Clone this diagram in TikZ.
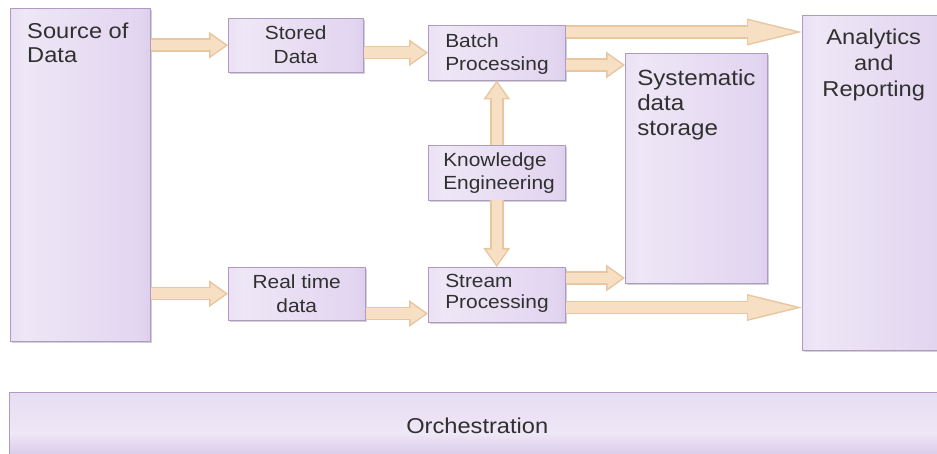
\documentclass[tikz,border=0pt]{standalone}
\usepackage{fontspec}
\setmainfont[FakeStretch=1.1]{Liberation Sans}
\usetikzlibrary{arrows.meta,shadows}
\definecolor{bxa}{HTML}{D6C4EA}
\definecolor{bxb}{HTML}{EEE7F6}
\definecolor{bxc}{HTML}{E2D5F0}
\definecolor{bxd}{HTML}{B899D6}
\definecolor{bxline}{HTML}{AE9AC2}
\definecolor{arredge}{HTML}{E8C6A0}
\definecolor{arrfill}{HTML}{F6DFC2}
\definecolor{txt}{HTML}{303030}
\pgfdeclarehorizontalshading{boxshade}{100bp}{color(0bp)=(bxa); color(30bp)=(bxb); color(72bp)=(bxc); color(100bp)=(bxd)}
\pgfdeclareverticalshading{orchshade}{100bp}{color(0bp)=(bxd); color(45bp)=(bxb); color(100bp)=(bxc)}
\newcommand\btxt[4]{\parbox[c][#2][t]{#1}{\vspace*{#3}#4}}
\newcommand\flowarr[3][flow]{\draw[#1outer] #2 -- #3; \draw[#1inner] #2 -- #3;}
\tikzset{
  box/.style={shading=boxshade, draw=bxline, line width=0.5pt, inner sep=0pt,
    anchor=north west, text=txt,
    drop shadow={shadow xshift=1.5pt, shadow yshift=-2pt, opacity=0.3, fill=black!60}},
  flowouter/.style={draw=arredge, line width=13.5pt,
    -{Triangle[width=27pt,length=19pt,line width=0pt]}},
  flowinner/.style={draw=arrfill, line width=10.5pt,
    -{Triangle[width=21pt,length=14.8pt,line width=0pt]}, shorten >=2.6pt},
  longflowouter/.style={draw=arredge, line width=13.5pt,
    -{Triangle[width=27pt,length=55pt,line width=0pt]}},
  longflowinner/.style={draw=arrfill, line width=10.5pt,
    -{Triangle[width=23.5pt,length=47.8pt,line width=0pt]}, shorten >=6.3pt},
}
\begin{document}
\begin{tikzpicture}[x=1pt,y=-1pt]
\useasboundingbox (0,0) rectangle (937,454);
\clip (0,0) rectangle (937,454);

\node[box] (src) at (10,8)
  {\btxt{140pt}{333pt}{15pt}{\fontsize{21.5}{24}\selectfont\raggedright\leftskip=17pt Source of\\Data}};
\node[box] (stored) at (228,18)
  {\btxt{135pt}{54pt}{7.5pt}{\fontsize{19}{24}\selectfont\centering Stored\\Data}};
\node[box] (batch) at (428,25)
  {\btxt{137pt}{55pt}{8.5pt}{\fontsize{19}{23}\selectfont\raggedright\leftskip=17pt Batch\\Processing}};
\node[box] (know) at (428,145)
  {\btxt{137pt}{55pt}{7.5pt}{\fontsize{19}{23}\selectfont\raggedright\leftskip=15pt Knowledge\\Engineering}};
\node[box] (real) at (228,267)
  {\btxt{137pt}{53pt}{7.5pt}{\fontsize{19}{24}\selectfont\centering Real time\\data}};
\node[box] (stream) at (428,267)
  {\btxt{137pt}{55pt}{6.5pt}{\fontsize{19}{21.5}\selectfont\raggedright\leftskip=17pt Stream\\Processing}};
\node[box] (sys) at (625,53)
  {\btxt{142pt}{230pt}{16pt}{\fontsize{22}{25}\selectfont\raggedright\leftskip=12pt Systematic\\data\\storage}};
\node[box] (ana) at (802,15)
  {\btxt{143pt}{335pt}{14pt}{\fontsize{21.5}{26}\selectfont\centering Analytics\\and\\Reporting}};
\node[box, shading=orchshade, minimum width=936pt, minimum height=68pt,
  font=\fontsize{21.5}{24}\selectfont] (orch) at (9,392) {Orchestration};

\coordinate (b1) at ([yshift=-7pt]batch.north east);
\coordinate (b2) at ([yshift=-40pt]batch.north east);
\coordinate (r1) at ([yshift=7pt]real.south east);
\coordinate (s1) at ([yshift=-11pt]stream.north east);
\coordinate (s2) at ([yshift=15pt]stream.south east);

\flowarr{(src.east |- stored.west)}{(stored.west)}
\flowarr{(stored.east |- batch.west)}{(batch.west)}
\flowarr[longflow]{(b1)}{(b1 -| ana.west)}
\flowarr{(b2)}{(b2 -| sys.west)}
\flowarr{(know.north)}{(batch.south)}
\flowarr{(know.south)}{(stream.north)}
\flowarr{(src.east |- real.west)}{(real.west)}
\flowarr{(r1)}{(r1 -| stream.west)}
\flowarr{(s1)}{(s1 -| sys.west)}
\flowarr[longflow]{(s2)}{(s2 -| ana.west)}
\end{tikzpicture}
\end{document}
